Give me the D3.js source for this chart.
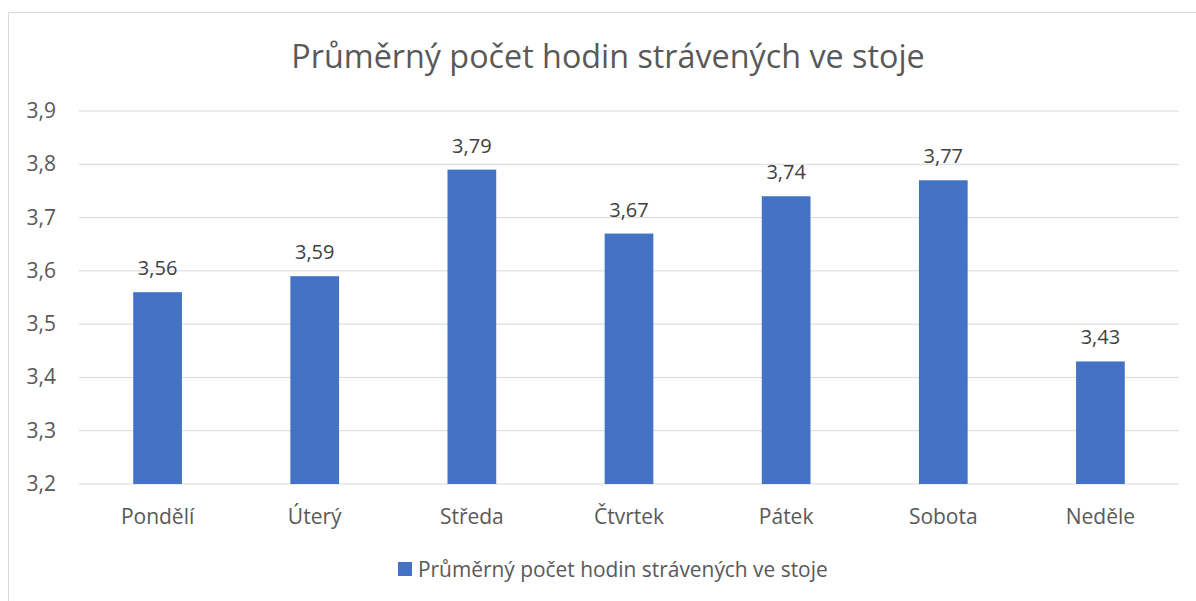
<!DOCTYPE html>
<html>
<head>
<meta charset="utf-8">
<script src="https://cdn.jsdelivr.net/npm/d3@7"></script>
<style>
  body { margin: 0; background: #fff; }
  text { font-family: "Open Sans", sans-serif; }
</style>
</head>
<body>
<div id="chart"></div>
<script>
// Data
var days = ["Pondělí", "Úterý", "Středa", "Čtvrtek", "Pátek", "Sobota", "Neděle"];
var hours = [3.56, 3.59, 3.79, 3.67, 3.74, 3.77, 3.43];
var yTicks = [3.2, 3.3, 3.4, 3.5, 3.6, 3.7, 3.8, 3.9];
var title = "Průměrný počet hodin strávených ve stoje";

var width = 1196, height = 601;
var svg = d3.select("#chart").append("svg")
  .attr("width", width)
  .attr("height", height);

// chart frame (cut off on right and bottom in the original)
svg.append("rect")
  .attr("x", 8.5).attr("y", 12.5)
  .attr("width", 1200).attr("height", 600)
  .attr("fill", "none")
  .attr("stroke", "#d9d9d9");

var plot = { left: 79, right: 1179, top: 111, bottom: 484 };

var x = d3.scaleBand()
  .domain(days)
  .range([plot.left, plot.right])
  .paddingInner(0.69)
  .paddingOuter(0.345);

var y = d3.scaleLinear()
  .domain([3.2, 3.9])
  .range([plot.bottom, plot.top]);

var fmt = function(v) { return d3.format(".1f")(v).replace(".", ","); };
var fmt2 = function(v) { return d3.format(".2f")(v).replace(".", ","); };

// gridlines
svg.append("g")
  .selectAll("line")
  .data(yTicks)
  .enter()
  .append("line")
    .attr("x1", plot.left).attr("x2", plot.right)
    .attr("y1", function(d) { return y(d); })
    .attr("y2", function(d) { return y(d); })
    .attr("stroke", "#d9d9d9")
    .attr("stroke-width", 1);

// y axis labels
svg.append("g")
  .selectAll("text")
  .data(yTicks)
  .enter()
  .append("text")
    .attr("x", 56)
    .attr("y", function(d) { return y(d) + 7; })
    .attr("text-anchor", "end")
    .attr("font-size", 21)
    .attr("fill", "#595959")
    .text(fmt);

// bars
svg.append("g")
  .selectAll("rect")
  .data(hours)
  .enter()
  .append("rect")
    .attr("x", function(d, i) { return x(days[i]); })
    .attr("y", function(d) { return y(d); })
    .attr("width", x.bandwidth())
    .attr("height", function(d) { return plot.bottom - y(d); })
    .attr("fill", "#4472c4");

// data labels
svg.append("g")
  .selectAll("text")
  .data(hours)
  .enter()
  .append("text")
    .attr("x", function(d, i) { return x(days[i]) + x.bandwidth() / 2; })
    .attr("y", function(d) { return y(d) - 17; })
    .attr("text-anchor", "middle")
    .attr("font-size", 20)
    .attr("fill", "#404040")
    .text(fmt2);

// category labels
svg.append("g")
  .selectAll("text")
  .data(days)
  .enter()
  .append("text")
    .attr("x", function(d) { return x(d) + x.bandwidth() / 2; })
    .attr("y", 524)
    .attr("text-anchor", "middle")
    .attr("font-size", 21)
    .attr("fill", "#595959")
    .text(function(d) { return d; });

// title
svg.append("text")
  .attr("x", 608)
  .attr("y", 68)
  .attr("text-anchor", "middle")
  .attr("font-size", 32.3)
  .attr("fill", "#595959")
  .text(title);

// legend
var legend = svg.append("g");
legend.append("rect")
  .attr("x", 398).attr("y", 562)
  .attr("width", 14).attr("height", 14)
  .attr("fill", "#4472c4");
legend.append("text")
  .attr("x", 418).attr("y", 577)
  .attr("font-size", 20.9)
  .attr("fill", "#595959")
  .text(title);
</script>
</body>
</html>
